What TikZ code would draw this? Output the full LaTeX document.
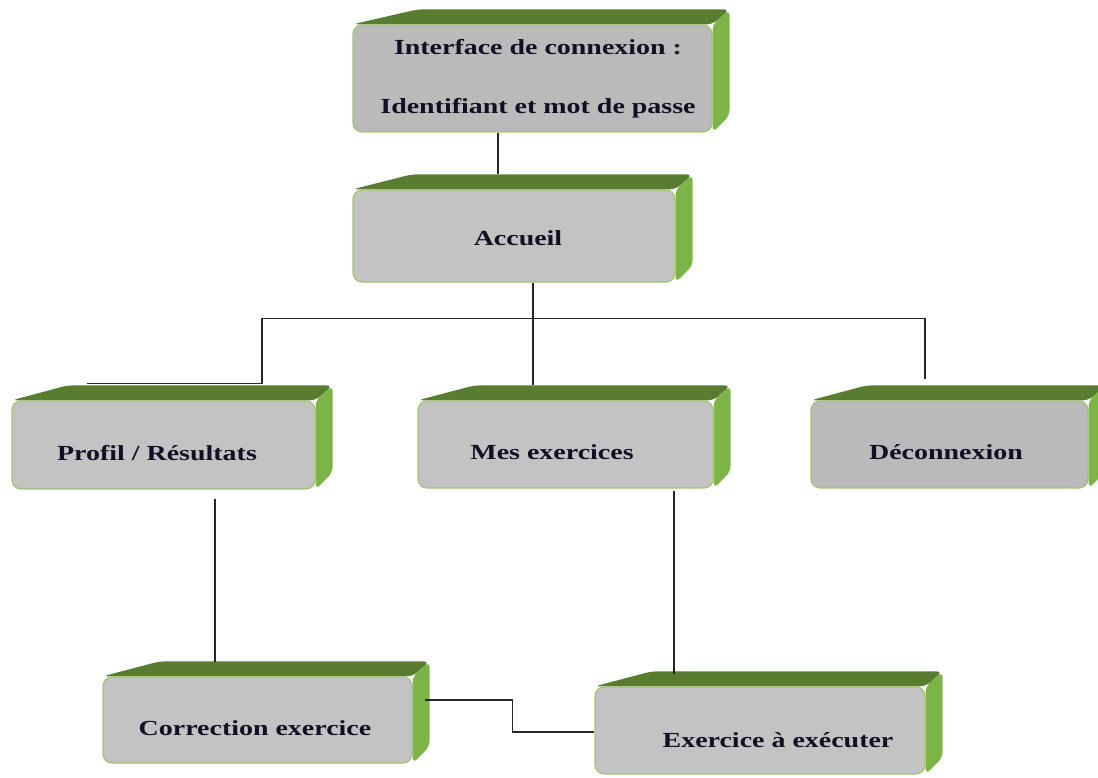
\documentclass[tikz,border=0pt]{standalone}
\usepackage{fontspec}
\setmainfont{Liberation Serif}
\usepackage{graphicx}
\definecolor{faceGray}{RGB}{195,195,195}
\definecolor{faceGrayDark}{RGB}{186,186,186}
\definecolor{edgeGreen}{RGB}{160,196,112}
\definecolor{topGreen}{RGB}{88,125,48}
\definecolor{sideGreen}{RGB}{124,180,72}
\definecolor{inkNavy}{RGB}{16,16,36}
\usetikzlibrary{calc,backgrounds,positioning}
\tikzset{
  face/.style={draw=edgeGreen, line width=1.2pt, fill=faceGray, rounded corners=9pt, inner sep=0pt},
  caption/.style={font=\fontsize{21.5}{59}\selectfont\bfseries, text=inkNavy, inner sep=0pt},
  link/.style={draw=black!85, line width=1.1pt},
}
% horizontally stretched text, as in the drawing
\newcommand{\wide}[1]{\scalebox{1.3}[1]{#1}}
% green top and side of a box: #1 node, #2 slant of the top face
\newcommand{\slab}[2]{%
  \fill[topGreen, rounded corners=6pt] (#1.north west) -- ++(#2,-15) -- ($(#1.north east)+(17,-15)$) -- (#1.north east) -- cycle;
  \fill[sideGreen, rounded corners=6pt] (#1.north east) -- ++(17,-15) -- ($(#1.south east)+(17,-17)$) -- (#1.south east) -- cycle;
}

\begin{document}
\begin{tikzpicture}[x=1pt,y=-1pt]
  \useasboundingbox (0,0) rectangle (1098,778);
  \clip (0,0) rectangle (1098,778);

  % boxes
  \node[face, fill=faceGrayDark, minimum width=359pt, minimum height=107pt] (login) at (532.5,78.5) {};
  \node[face, minimum width=322pt, minimum height=92pt] (accueil) at (514,236) {};
  \node[face, minimum width=303pt, minimum height=88pt] (profil) at (163.5,445) {};
  \node[face, minimum width=295pt, minimum height=87pt] (exos) at (565.5,444.5) {};
  \node[face, fill=faceGrayDark, minimum width=277pt, minimum height=87pt] (deco) at (949.5,444.5) {};
  \node[face, minimum width=309pt, minimum height=86pt] (correction) at (257.5,720) {};
  \node[face, minimum width=330pt, minimum height=87pt] (execution) at (760,730.5) {};

  % texts
  \node[caption, align=center] (login-t) at (538,79) {\wide{Interface de connexion :}\\\wide{Identifiant et mot de passe}};
  \node[caption] (accueil-t) at (518,238) {\wide{Accueil}};
  \node[caption] (profil-t) at (157,453) {\wide{Profil / Résultats}};
  \node[caption] (exos-t) at (552,452) {\wide{Mes exercices}};
  \node[caption] (deco-t) at (946,452) {\wide{Déconnexion}};
  \node[caption] (correction-t) at (255,728) {\wide{Correction exercice}};
  \node[caption] (execution-t) at (778,740) {\wide{Exercice à exécuter}};

  \begin{scope}[on background layer]
    \slab{login}{65}
    \slab{accueil}{59}
    \slab{profil}{56}
    \slab{exos}{57}
    \slab{deco}{56}
    \slab{correction}{57}
    \slab{execution}{57}
  \end{scope}

  % connectors
  \coordinate (fork) at ([xshift=19pt,yshift=-36pt]accueil.south);
  \draw[link] ([xshift=-34.5pt]login.south) -- ([xshift=-16pt,yshift=15pt]accueil.north);
  \draw[link] ([xshift=19pt]accueil.south) -- ([xshift=-32.5pt,yshift=15pt]exos.north);
  \draw[link] ([xshift=-76.5pt,yshift=17pt]profil.north) -| ([xshift=-271pt]fork) -| ([xshift=-24.5pt,yshift=21pt]deco.north);
  \draw[link] ([xshift=51.5pt,yshift=-9pt]profil.south) -- ([xshift=-42.5pt,yshift=14pt]correction.north);
  \draw[link] ([xshift=108.5pt,yshift=-2pt]exos.south) -- ([xshift=-86pt,yshift=12pt]execution.north);
  \draw[link] ([xshift=12pt,yshift=20pt]correction.east) -- ++(88,0) |- ([yshift=-1.5pt]execution.west);
\end{tikzpicture}
\end{document}
